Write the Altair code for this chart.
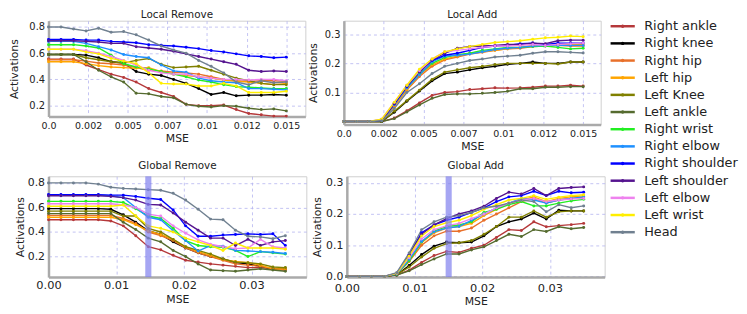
import altair as alt
import pandas as pd

NAMES = ["Right ankle", "Right knee", "Right hip", "Left hip", "Left Knee", "Left ankle",
         "Right wrist", "Right elbow", "Right shoulder", "Left shoulder", "Left elbow",
         "Left wrist", "Head"]
COLORS = ["#b5383a", "#000000", "#e8702a", "#ffa500", "#808000", "#556b2f",
          "#22ee22", "#1e90ff", "#0000ff", "#55148f", "#ee82ee", "#ffee00", "#708090"]

LOCAL_MSE = [0.0, 0.00079, 0.00158, 0.00237, 0.00316, 0.00395, 0.00474, 0.00553, 0.00632, 0.00711,
             0.00789, 0.00868, 0.00947, 0.01026, 0.01105, 0.01184, 0.01263, 0.01342, 0.01421, 0.015]
GLOBAL_MSE = [0.0, 0.00184, 0.00368, 0.00553, 0.00737, 0.00921, 0.01105, 0.01289, 0.01474, 0.01658,
              0.01842, 0.02026, 0.02211, 0.02395, 0.02579, 0.02763, 0.02947, 0.03132, 0.03316, 0.035]

LOCAL_REMOVE = {
    "Right ankle":    [0.555, 0.555, 0.555, 0.51, 0.475, 0.44, 0.415, 0.38, 0.33, 0.30, 0.27, 0.21, 0.20, 0.20, 0.205, 0.17, 0.14, 0.13, 0.12, 0.12],
    "Right knee":     [0.59, 0.59, 0.59, 0.585, 0.565, 0.535, 0.525, 0.46, 0.44, 0.43, 0.40, 0.37, 0.33, 0.285, 0.30, 0.275, 0.28, 0.28, 0.285, 0.28],
    "Right hip":      [0.55, 0.55, 0.55, 0.54, 0.525, 0.52, 0.51, 0.49, 0.47, 0.465, 0.455, 0.45, 0.44, 0.42, 0.40, 0.39, 0.385, 0.39, 0.39, 0.385],
    "Left hip":       [0.535, 0.535, 0.535, 0.52, 0.505, 0.495, 0.49, 0.485, 0.49, 0.46, 0.44, 0.43, 0.42, 0.41, 0.395, 0.385, 0.38, 0.37, 0.36, 0.37],
    "Left Knee":      [0.59, 0.59, 0.59, 0.565, 0.55, 0.535, 0.525, 0.545, 0.56, 0.515, 0.49, 0.495, 0.50, 0.47, 0.44, 0.41, 0.39, 0.37, 0.36, 0.36],
    "Left ankle":     [0.59, 0.59, 0.59, 0.535, 0.47, 0.42, 0.38, 0.295, 0.29, 0.27, 0.26, 0.21, 0.195, 0.19, 0.20, 0.195, 0.18, 0.17, 0.175, 0.16],
    "Right wrist":    [0.665, 0.665, 0.665, 0.655, 0.64, 0.585, 0.52, 0.495, 0.48, 0.46, 0.44, 0.42, 0.395, 0.38, 0.36, 0.345, 0.34, 0.335, 0.33, 0.33],
    "Right elbow":    [0.69, 0.69, 0.69, 0.675, 0.65, 0.625, 0.59, 0.575, 0.565, 0.51, 0.465, 0.455, 0.41, 0.39, 0.38, 0.375, 0.33, 0.33, 0.325, 0.32],
    "Right shoulder": [0.705, 0.705, 0.705, 0.70, 0.70, 0.69, 0.685, 0.68, 0.665, 0.66, 0.655, 0.645, 0.635, 0.62, 0.61, 0.595, 0.58, 0.575, 0.565, 0.57],
    "Left shoulder":  [0.695, 0.695, 0.695, 0.69, 0.685, 0.675, 0.675, 0.65, 0.64, 0.63, 0.615, 0.595, 0.575, 0.555, 0.535, 0.515, 0.47, 0.46, 0.465, 0.46],
    "Left elbow":     [0.63, 0.63, 0.63, 0.62, 0.60, 0.575, 0.545, 0.51, 0.47, 0.45, 0.44, 0.44, 0.42, 0.41, 0.40, 0.40, 0.395, 0.40, 0.40, 0.39],
    "Left wrist":     [0.63, 0.63, 0.63, 0.61, 0.595, 0.56, 0.54, 0.52, 0.45, 0.37, 0.365, 0.365, 0.35, 0.35, 0.37, 0.35, 0.30, 0.30, 0.30, 0.31],
    "Head":           [0.80, 0.80, 0.785, 0.77, 0.79, 0.76, 0.765, 0.74, 0.70, 0.655, 0.625, 0.60, 0.545, 0.50, 0.45, 0.38, 0.36, 0.39, 0.375, 0.38],
}

LOCAL_ADD = {
    "Right ankle":    [0, 0, 0, 0.0, 0.012, 0.037, 0.064, 0.09, 0.10, 0.103, 0.11, 0.113, 0.116, 0.115, 0.116, 0.118, 0.122, 0.122, 0.125, 0.122],
    "Right knee":     [0, 0, 0, 0.0, 0.032, 0.07, 0.105, 0.14, 0.165, 0.17, 0.178, 0.185, 0.19, 0.197, 0.20, 0.205, 0.20, 0.20, 0.205, 0.205],
    "Right hip":      [0, 0, 0, 0.004, 0.052, 0.108, 0.155, 0.19, 0.212, 0.222, 0.232, 0.238, 0.245, 0.25, 0.252, 0.258, 0.26, 0.262, 0.26, 0.26],
    "Left hip":       [0, 0, 0, 0.005, 0.055, 0.11, 0.16, 0.195, 0.215, 0.225, 0.235, 0.24, 0.245, 0.25, 0.255, 0.262, 0.262, 0.265, 0.265, 0.265],
    "Left Knee":      [0, 0, 0, 0.0, 0.035, 0.072, 0.108, 0.145, 0.17, 0.178, 0.185, 0.19, 0.196, 0.20, 0.20, 0.20, 0.20, 0.198, 0.205, 0.205],
    "Left ankle":     [0, 0, 0, 0.0, 0.01, 0.033, 0.057, 0.08, 0.093, 0.095, 0.095, 0.097, 0.10, 0.104, 0.113, 0.113, 0.118, 0.118, 0.12, 0.12],
    "Right wrist":    [0, 0, 0, 0.006, 0.06, 0.12, 0.165, 0.20, 0.22, 0.23, 0.235, 0.245, 0.25, 0.255, 0.255, 0.258, 0.26, 0.255, 0.25, 0.252],
    "Right elbow":    [0, 0, 0, 0.005, 0.058, 0.115, 0.16, 0.205, 0.225, 0.228, 0.232, 0.24, 0.248, 0.252, 0.255, 0.26, 0.262, 0.262, 0.262, 0.262],
    "Right shoulder": [0, 0, 0, 0.005, 0.06, 0.12, 0.172, 0.21, 0.228, 0.235, 0.245, 0.255, 0.26, 0.262, 0.268, 0.27, 0.265, 0.27, 0.27, 0.27],
    "Left shoulder":  [0, 0, 0, 0.005, 0.062, 0.122, 0.17, 0.212, 0.235, 0.252, 0.258, 0.26, 0.262, 0.265, 0.265, 0.27, 0.268, 0.278, 0.28, 0.28],
    "Left elbow":     [0, 0, 0, 0.008, 0.066, 0.125, 0.175, 0.215, 0.24, 0.245, 0.25, 0.255, 0.26, 0.26, 0.262, 0.265, 0.262, 0.265, 0.268, 0.27],
    "Left wrist":     [0, 0, 0, 0.008, 0.066, 0.125, 0.18, 0.215, 0.24, 0.25, 0.258, 0.265, 0.272, 0.275, 0.278, 0.283, 0.288, 0.29, 0.294, 0.292],
    "Head":           [0, 0, 0, 0.003, 0.045, 0.10, 0.13, 0.165, 0.19, 0.20, 0.21, 0.215, 0.222, 0.225, 0.228, 0.235, 0.24, 0.24, 0.238, 0.236],
}

GLOBAL_REMOVE = {
    "Right ankle":    [0.50, 0.50, 0.50, 0.50, 0.50, 0.49, 0.45, 0.37, 0.28, 0.255, 0.21, 0.17, 0.155, 0.14, 0.13, 0.12, 0.11, 0.11, 0.10, 0.09],
    "Right knee":     [0.59, 0.59, 0.59, 0.59, 0.59, 0.585, 0.54, 0.48, 0.41, 0.38, 0.32, 0.27, 0.23, 0.20, 0.18, 0.15, 0.14, 0.12, 0.10, 0.10],
    "Right hip":      [0.535, 0.535, 0.535, 0.535, 0.535, 0.535, 0.51, 0.47, 0.40, 0.37, 0.33, 0.27, 0.23, 0.20, 0.17, 0.14, 0.13, 0.12, 0.10, 0.09],
    "Left hip":       [0.52, 0.52, 0.52, 0.52, 0.52, 0.52, 0.50, 0.46, 0.41, 0.38, 0.34, 0.28, 0.24, 0.21, 0.175, 0.16, 0.15, 0.13, 0.10, 0.10],
    "Left Knee":      [0.57, 0.57, 0.57, 0.57, 0.57, 0.57, 0.53, 0.53, 0.43, 0.40, 0.34, 0.28, 0.25, 0.22, 0.18, 0.155, 0.15, 0.14, 0.115, 0.11],
    "Left ankle":     [0.55, 0.55, 0.55, 0.55, 0.55, 0.55, 0.48, 0.42, 0.35, 0.32, 0.25, 0.20, 0.14, 0.09, 0.085, 0.08, 0.09, 0.10, 0.09, 0.08],
    "Right wrist":    [0.65, 0.65, 0.65, 0.65, 0.65, 0.65, 0.64, 0.59, 0.53, 0.51, 0.43, 0.33, 0.29, 0.28, 0.275, 0.25, 0.20, 0.24, 0.23, 0.22],
    "Right elbow":    [0.70, 0.70, 0.70, 0.70, 0.70, 0.695, 0.68, 0.60, 0.52, 0.50, 0.41, 0.33, 0.245, 0.29, 0.285, 0.25, 0.245, 0.24, 0.235, 0.225],
    "Right shoulder": [0.705, 0.705, 0.705, 0.705, 0.705, 0.70, 0.70, 0.69, 0.675, 0.665, 0.58, 0.45, 0.365, 0.365, 0.375, 0.38, 0.385, 0.38, 0.385, 0.29],
    "Left shoulder":  [0.695, 0.695, 0.695, 0.695, 0.695, 0.69, 0.68, 0.66, 0.625, 0.62, 0.555, 0.48, 0.415, 0.35, 0.35, 0.29, 0.34, 0.29, 0.32, 0.33],
    "Left elbow":     [0.63, 0.63, 0.63, 0.63, 0.63, 0.63, 0.62, 0.60, 0.545, 0.53, 0.45, 0.39, 0.335, 0.30, 0.28, 0.265, 0.27, 0.34, 0.28, 0.27],
    "Left wrist":     [0.61, 0.61, 0.61, 0.61, 0.61, 0.61, 0.62, 0.53, 0.45, 0.43, 0.40, 0.35, 0.32, 0.29, 0.25, 0.31, 0.27, 0.27, 0.27, 0.26],
    "Head":           [0.80, 0.80, 0.80, 0.80, 0.79, 0.765, 0.755, 0.75, 0.745, 0.74, 0.715, 0.66, 0.585, 0.505, 0.50, 0.415, 0.365, 0.36, 0.345, 0.37],
}

GLOBAL_ADD = {
    "Right ankle":    [0, 0, 0, 0, 0.004, 0.02, 0.045, 0.067, 0.08, 0.077, 0.09, 0.10, 0.125, 0.15, 0.147, 0.175, 0.159, 0.163, 0.166, 0.17],
    "Right knee":     [0, 0, 0, 0, 0.005, 0.035, 0.07, 0.097, 0.11, 0.108, 0.11, 0.13, 0.16, 0.175, 0.184, 0.203, 0.184, 0.212, 0.21, 0.21],
    "Right hip":      [0, 0, 0, 0, 0.007, 0.048, 0.10, 0.13, 0.145, 0.145, 0.155, 0.18, 0.20, 0.22, 0.24, 0.25, 0.235, 0.245, 0.25, 0.252],
    "Left hip":       [0, 0, 0, 0, 0.008, 0.052, 0.108, 0.14, 0.155, 0.16, 0.17, 0.195, 0.215, 0.235, 0.245, 0.255, 0.24, 0.25, 0.255, 0.258],
    "Left Knee":      [0, 0, 0, 0, 0.005, 0.03, 0.062, 0.09, 0.105, 0.108, 0.115, 0.135, 0.16, 0.19, 0.19, 0.21, 0.19, 0.207, 0.21, 0.21],
    "Left ankle":     [0, 0, 0, 0, 0.004, 0.018, 0.038, 0.056, 0.072, 0.072, 0.085, 0.095, 0.115, 0.135, 0.128, 0.15, 0.144, 0.159, 0.153, 0.157],
    "Right wrist":    [0, 0, 0, 0, 0.008, 0.05, 0.11, 0.145, 0.16, 0.165, 0.175, 0.205, 0.215, 0.23, 0.24, 0.226, 0.226, 0.235, 0.242, 0.247],
    "Right elbow":    [0, 0, 0, 0, 0.008, 0.055, 0.112, 0.143, 0.155, 0.16, 0.18, 0.20, 0.22, 0.235, 0.25, 0.245, 0.235, 0.245, 0.25, 0.255],
    "Right shoulder": [0, 0, 0, 0, 0.01, 0.07, 0.14, 0.165, 0.18, 0.19, 0.205, 0.22, 0.24, 0.255, 0.259, 0.273, 0.259, 0.273, 0.268, 0.27],
    "Left shoulder":  [0, 0, 0, 0, 0.01, 0.068, 0.135, 0.165, 0.185, 0.20, 0.21, 0.225, 0.25, 0.27, 0.264, 0.282, 0.259, 0.282, 0.285, 0.287],
    "Left elbow":     [0, 0, 0, 0, 0.01, 0.06, 0.12, 0.15, 0.162, 0.17, 0.185, 0.20, 0.22, 0.235, 0.245, 0.25, 0.24, 0.245, 0.248, 0.25],
    "Left wrist":     [0, 0, 0, 0, 0.01, 0.065, 0.13, 0.16, 0.172, 0.18, 0.195, 0.215, 0.23, 0.245, 0.25, 0.259, 0.247, 0.254, 0.259, 0.262],
    "Head":           [0, 0, 0, 0, 0.012, 0.075, 0.15, 0.175, 0.19, 0.195, 0.205, 0.22, 0.225, 0.235, 0.245, 0.24, 0.207, 0.23, 0.22, 0.226],
}

LOCAL_TICKS = [0.0, 0.0025, 0.005, 0.0075, 0.01, 0.0125, 0.015]
LOCAL_TICK_LABELS = ["0.0", "0.002", "0.005", "0.007", "0.01", "0.012", "0.015"]
GLOBAL_TICKS = [0.0, 0.01, 0.02, 0.03]
GLOBAL_TICK_LABELS = ["0.00", "0.01", "0.02", "0.03"]
REMOVE_Y_TICKS = [0.2, 0.4, 0.6, 0.8]
LOCAL_ADD_Y_TICKS = [0.1, 0.2, 0.3]
GLOBAL_ADD_Y_TICKS = [0.0, 0.1, 0.2, 0.3]
BAND_GLOBAL_REMOVE = [0.0143, 0.0152]
BAND_GLOBAL_ADD = [0.0146, 0.0155]

FONT = "DejaVu Sans"
TXT = "#222222"
FRAME = alt.ViewBackground(stroke="#cfcfcf", strokeWidth=1)


def long_df(xs, table):
    rows = []
    for name in NAMES:
        for x, v in zip(xs, table[name]):
            rows.append({"mse": x, "act": v, "joint": name})
    return pd.DataFrame(rows)


def label_expr(ticks, labels):
    expr = "''"
    for t, lab in reversed(list(zip(ticks, labels))):
        expr = f"(abs(datum.value - {t}) < 1e-7 ? '{lab}' : {expr})"
    return expr


def panel(title, xs, table, xdom, xticks, xlabels, xfs, xpad, ydom, yticks, yfs,
          width, height, title_offset, y_extent, y_title_pad, band=None):
    df = long_df(xs, table)
    xscale = alt.Scale(domain=xdom, nice=False, zero=False)
    x = alt.X("mse:Q", scale=xscale, title="MSE",
              axis=alt.Axis(values=xticks, labelExpr=label_expr(xticks, xlabels),
                            labelFontSize=xfs, titleFontSize=11, labelPadding=xpad,
                            titlePadding=2, labelFlush=False))
    y = alt.Y("act:Q", scale=alt.Scale(domain=ydom, nice=False, zero=False),
              title="Activations",
              axis=alt.Axis(values=yticks, format=".1f", labelFontSize=yfs,
                            titleFontSize=11, minExtent=y_extent, maxExtent=y_extent,
                            titlePadding=y_title_pad, labelPadding=4, labelFlush=False))
    color = alt.Color("joint:N", scale=alt.Scale(domain=NAMES, range=COLORS), legend=None)
    lines = alt.Chart(df).mark_line(
        strokeWidth=1.4, point=alt.OverlayMarkDef(filled=True, size=9)
    ).encode(x=x, y=y, color=color)
    layers = [lines]
    if band is not None:
        bdf = pd.DataFrame({"x0": [band[0]], "x1": [band[1]]})
        rect = alt.Chart(bdf).mark_rect(color="#8080ee", opacity=0.7).encode(
            x=alt.X("x0:Q", scale=xscale, title="MSE"), x2="x1:Q")
        layers.append(rect)
    return alt.layer(*layers).properties(
        width=width, height=height, view=FRAME,
        title=alt.TitleParams(title, fontSize=10.5, fontWeight="normal", offset=title_offset,
                              color=TXT, font=FONT))


lr = panel("Local Remove", LOCAL_MSE, LOCAL_REMOVE, [0, 0.0162], LOCAL_TICKS, LOCAL_TICK_LABELS, 9.6, 4.5,
           [0.117, 0.848], REMOVE_Y_TICKS, 10, 260, 97, 0, 21, 8)
la = panel("Local Add", LOCAL_MSE, LOCAL_ADD, [0, 0.0161], LOCAL_TICKS, LOCAL_TICK_LABELS, 9.6, 4.5,
           [-0.0099, 0.347], LOCAL_ADD_Y_TICKS, 10, 260, 105, 0, 22, 4)
gr = panel("Global Remove", GLOBAL_MSE, GLOBAL_REMOVE, [0, 0.0381], GLOBAL_TICKS, GLOBAL_TICK_LABELS, 11.5, 3,
           [0.033, 0.854], REMOVE_Y_TICKS, 11, 261, 102, 5, 21, 2, BAND_GLOBAL_REMOVE)
ga = panel("Global Add", GLOBAL_MSE, GLOBAL_ADD, [0, 0.0381], GLOBAL_TICKS, GLOBAL_TICK_LABELS, 11.5, 5.5,
           [-0.002, 0.321], GLOBAL_ADD_Y_TICKS, 11, 261, 102, 5, 21, 3.5, BAND_GLOBAL_ADD)

# legend drawn as its own small view, one row per joint
legend_df = pd.DataFrame({"joint": NAMES, "row": list(range(len(NAMES)))})
ly = alt.Y("row:Q", scale=alt.Scale(domain=[-0.322, 13.491], reverse=True), axis=None)
lcolor = alt.Color("joint:N", scale=alt.Scale(domain=NAMES, range=COLORS), legend=None)
leg_base = alt.Chart(legend_df)
leg_rule = leg_base.mark_rule(strokeWidth=2.5).encode(
    x=alt.value(1), x2=alt.value(25.5), y=ly, color=lcolor)
leg_dot = leg_base.mark_point(filled=True, size=12, opacity=1).encode(
    x=alt.value(13.25), y=ly, color=lcolor)
leg_text = leg_base.mark_text(align="left", baseline="middle", fontSize=13, color=TXT, font=FONT).encode(
    x=alt.value(35), y=ly, text="joint:N")
legend = alt.layer(leg_rule, leg_dot, leg_text).properties(
    width=131, height=240, view=alt.ViewBackground(strokeOpacity=0))

top = alt.hconcat(lr, la, spacing=0)
bottom = alt.hconcat(gr, ga, spacing=4)
panels = alt.vconcat(top, bottom, spacing=8.5)

chart = alt.hconcat(panels, legend, spacing=3).properties(
    padding={"left": 0, "top": 0, "right": 0, "bottom": 0}
).configure(font=FONT).configure_axis(
    gridColor="#b4b4f0", gridDash=[3, 3], gridWidth=0.8, gridOpacity=1,
    domainColor="#aaaaaa", domainWidth=2.5, ticks=False,
    labelColor=TXT, titleColor=TXT, titleFontWeight="normal", labelFont=FONT, titleFont=FONT
)

chart.save("out.html", embed_options={"renderer": "svg", "actions": False})
